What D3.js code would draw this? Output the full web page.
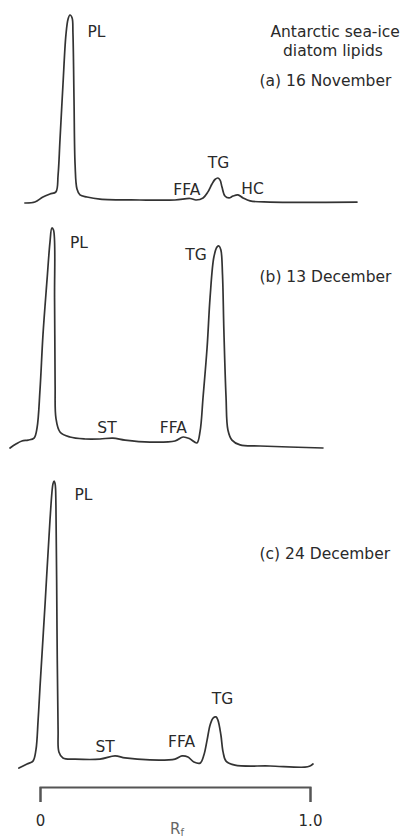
<!DOCTYPE html>
<html>
<head>
<meta charset="utf-8">
<script src="https://cdn.jsdelivr.net/npm/d3@7"></script>
<style>
  html, body { margin: 0; padding: 0; background: #fff; }
  svg { display: block; }
  .trace { fill: none; stroke: #333; stroke-width: 1.7; stroke-linejoin: round; stroke-linecap: round; }
  .lbl { font-family: "DejaVu Sans", sans-serif; font-size: 15.5px; fill: #2a2a2a; }
  .axis path, .axis line { stroke: #555; stroke-width: 2; }
  .axis text { font-family: "DejaVu Sans", sans-serif; font-size: 15px; fill: #2a2a2a; }
</style>
</head>
<body>
<svg id="chart" width="408" height="839"></svg>
<script>
// Densitometer scans of lipid-class TLC plates (relative response, % of PL peak)
// (a) 16 November
const novRf = [-0.056, -0.019, 0.011, 0.037, 0.059, 0.067, 0.074, 0.085, 0.096, 0.104, 0.111, 0.119, 0.122, 0.126, 0.130, 0.137, 0.148, 0.174, 0.222, 0.370, 0.500, 0.556, 0.578, 0.604, 0.622, 0.637, 0.648, 0.659, 0.667, 0.674, 0.685, 0.700, 0.715, 0.733, 0.752, 0.778, 0.852, 1.174];
const novSignal = [0, 0.5, 3.2, 4.8, 5.9, 14.9, 33.5, 62.8, 89.4, 97.9, 100, 98.4, 90.4, 54.8, 20.2, 7.4, 4.3, 3.2, 2.1, 1.6, 1.6, 2.4, 1.6, 2.7, 5.9, 10.1, 12.5, 13.3, 12.2, 8.5, 3.7, 2.7, 3.7, 4.3, 2.7, 1.1, 0.5, 0.5];

// (b) 13 December
const decRf = [-0.111, -0.089, -0.067, -0.044, -0.022, -0.011, 0.000, 0.011, 0.026, 0.037, 0.044, 0.050, 0.054, 0.056, 0.059, 0.074, 0.111, 0.167, 0.222, 0.270, 0.315, 0.407, 0.500, 0.530, 0.556, 0.581, 0.593, 0.604, 0.619, 0.630, 0.644, 0.656, 0.663, 0.670, 0.676, 0.681, 0.689, 0.696, 0.711, 0.741, 0.815, 1.048];
const decSignal = [0, 1.8, 3.2, 3.6, 4.5, 9.1, 26.4, 51.4, 76.4, 93.6, 100, 99.1, 67.3, 28.6, 13.6, 7.3, 5.0, 4.1, 4.1, 4.5, 3.6, 2.7, 3.2, 5.0, 4.1, 2.3, 7.7, 23.2, 45.9, 68.6, 86.8, 91.4, 91.8, 90.0, 78.6, 53.6, 23.2, 8.2, 3.6, 1.4, 0.9, 0];

// (c) 24 December
const lateDecRf = [-0.078, -0.048, -0.026, -0.015, -0.007, 0.000, 0.019, 0.037, 0.048, 0.052, 0.056, 0.059, 0.063, 0.067, 0.070, 0.085, 0.130, 0.222, 0.278, 0.315, 0.407, 0.500, 0.526, 0.548, 0.570, 0.593, 0.607, 0.619, 0.630, 0.641, 0.652, 0.659, 0.670, 0.678, 0.689, 0.722, 0.852, 0.981, 1.000, 1.011];
const lateDecSignal = [0, 1.4, 2.4, 6.3, 16.7, 28.2, 57.5, 86.4, 99.0, 100, 99.0, 91.6, 48.1, 13.2, 5.6, 3.5, 3.1, 3.1, 4.2, 3.5, 2.8, 3.1, 4.2, 3.8, 2.1, 1.7, 4.5, 9.8, 15.0, 17.4, 17.8, 16.7, 11.5, 5.6, 2.4, 1.0, 0.7, 0.3, 0.7, 1.4];

// Annotations, anchored in (Rf, signal) units
const novLabels = [
  { text: "PL", rf: 0.209, level: 88.3 },
  { text: "FFA", rf: 0.544, level: 4.3 },
  { text: "TG", rf: 0.661, level: 18.6 },
  { text: "HC", rf: 0.787, level: 4.8 }
];
const decLabels = [
  { text: "PL", rf: 0.144, level: 90.9 },
  { text: "ST", rf: 0.248, level: 6.8 },
  { text: "FFA", rf: 0.494, level: 6.8 },
  { text: "TG", rf: 0.578, level: 85.5 }
];
const lateDecLabels = [
  { text: "PL", rf: 0.161, level: 93.4 },
  { text: "ST", rf: 0.241, level: 5.6 },
  { text: "FFA", rf: 0.524, level: 7.3 },
  { text: "TG", rf: 0.676, level: 22.3 }
];
const novTitle = [
  { text: "Antarctic sea-ice", rf: 1.093, level: 88.3 },
  { text: "diatom lipids", rf: 1.085, level: 78.2 }
];
const panelNames = ["(a)  16 November", "(b) 13 December", "(c) 24 December"];
const panelNameRf = 0.813;
const panelNameLevel = [62.2, 75.5, 72.8];

const rfTicks = [0, 1];
const rfTickText = ["0", "1.0"];

const svg = d3.select("#chart");

// Shared Rf axis across all three scans
const x = d3.scaleLinear().domain([0, 1]).range([40, 310]);

const panels = [
  { rf: novRf, signal: novSignal, labels: novLabels.concat(novTitle), bottom: 203, top: 15 },
  { rf: decRf, signal: decSignal, labels: decLabels, bottom: 448, top: 228 },
  { rf: lateDecRf, signal: lateDecSignal, labels: lateDecLabels, bottom: 768, top: 481 }
];

panels.forEach((p, i) => {
  const y = d3.scaleLinear().domain([0, 100]).range([p.bottom, p.top]);
  const pts = p.rf.map((r, k) => [r, p.signal[k]]);
  const line = d3.line()
    .x(d => x(d[0]))
    .y(d => y(d[1]))
    .curve(d3.curveCatmullRom.alpha(0.5));

  const g = svg.append("g");
  g.append("path").attr("class", "trace").attr("d", line(pts));

  g.selectAll("text.peak")
    .data(p.labels)
    .join("text")
    .attr("class", "lbl peak")
    .attr("x", d => x(d.rf))
    .attr("y", d => y(d.level))
    .attr("text-anchor", "middle")
    .text(d => d.text);

  g.append("text")
    .attr("class", "lbl")
    .attr("x", x(panelNameRf))
    .attr("y", y(panelNameLevel[i]))
    .text(panelNames[i]);
});

// Rf bracket axis
const axis = d3.axisBottom(x)
  .tickValues(rfTicks)
  .tickFormat((d, i) => rfTickText[i])
  .tickSizeInner(15)
  .tickSizeOuter(15)
  .tickPadding(16);

const ax = svg.append("g").attr("class", "axis").attr("transform", "translate(0,787)").call(axis);
ax.selectAll("text").attr("dy", "0.55em");

const rfLabel = svg.append("text")
  .attr("class", "lbl")
  .attr("x", 170)
  .attr("y", 834)
  .style("font-size", "15px")
  .style("fill", "#666");
rfLabel.append("tspan").text("R");
rfLabel.append("tspan").attr("font-size", "10px").attr("dy", "2").text("f");
</script>
</body>
</html>
